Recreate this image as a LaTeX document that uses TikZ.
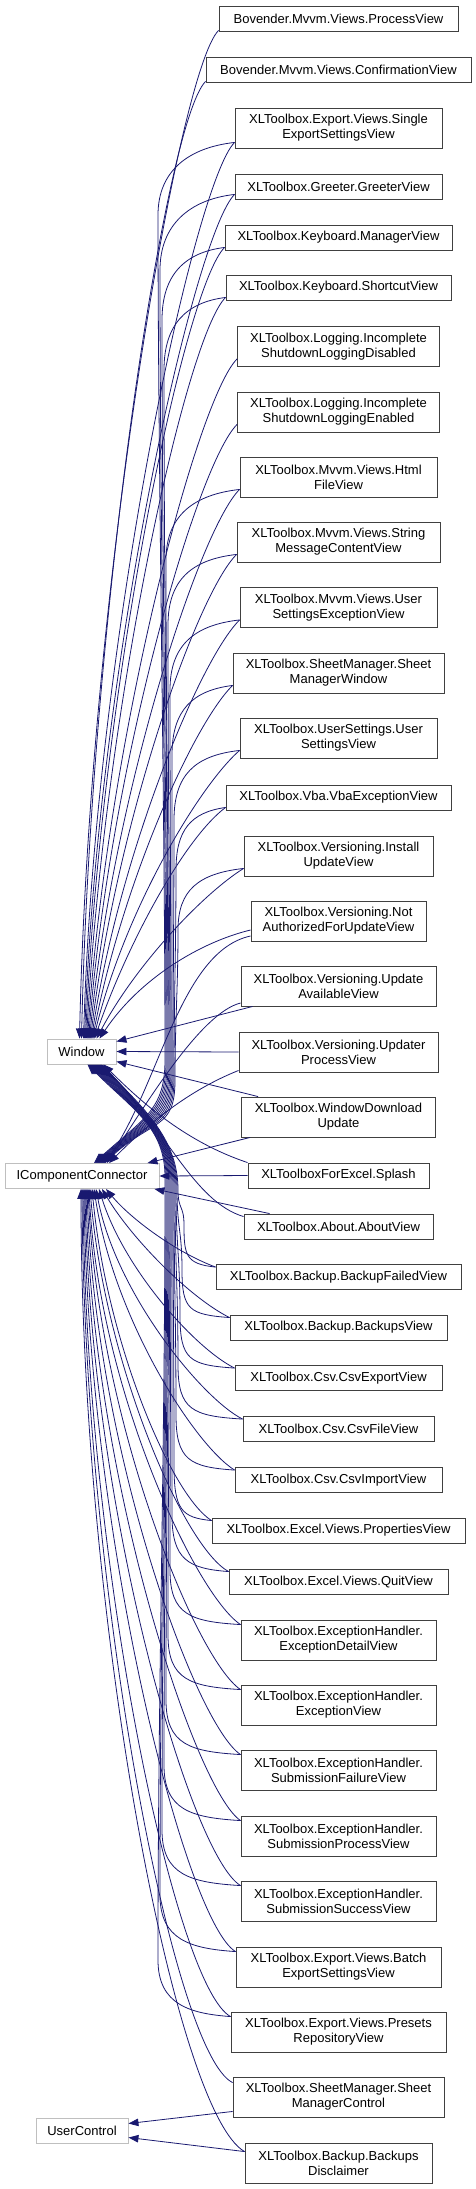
\documentclass[tikz,border=0pt]{standalone}
\usepackage{fontspec}
\setmainfont{Liberation Sans}
\usetikzlibrary{arrows.meta}
\definecolor{EdgeNavy}{RGB}{25, 25, 112}
\definecolor{BoxGray}{RGB}{64, 64, 64}
\definecolor{ExtGray}{RGB}{191, 191, 191}

\begin{document}
\begin{tikzpicture}[x=1pt, y=-1pt,
    cls/.style={draw=BoxGray, line width=0.9pt, fill=white, minimum height=25pt, inner sep=1pt, align=center, font=\fontsize{13}{15}\selectfont},
    clsTwo/.style={cls, minimum height=40pt},
    ext/.style={cls, draw=ExtGray},
    inh/.style={EdgeNavy, line width=0.8pt, -{Triangle[length=10pt, width=7.5pt]}}]
    \useasboundingbox (0,0) rectangle (476,2189);

    % Base classes
    \node[ext, minimum width=69pt] (window) at (81.5,1051.5) {Window};
    \node[ext, minimum width=154pt] (icc) at (82,1176) {IComponentConnector};
    \node[ext, minimum width=92pt] (userCtl) at (82,2130.5) {UserControl};

    % Derived classes
    \node[cls, minimum width=239pt] (procView) at (338.5,18.5) {Bovender.Mvvm.Views.ProcessView};
    \node[cls, minimum width=265pt] (confView) at (338.5,69.5) {Bovender.Mvvm.Views.ConfirmationView};
    \node[clsTwo, minimum width=207pt] (singleExp) at (338.5,128) {XLToolbox.Export.Views.Single\\ExportSettingsView};
    \node[cls, minimum width=207pt] (greeter) at (338.5,186.5) {XLToolbox.Greeter.GreeterView};
    \node[cls, minimum width=227pt] (mgrView) at (338.5,237.5) {XLToolbox.Keyboard.ManagerView};
    \node[cls, minimum width=225pt] (shortcut) at (338.5,287.5) {XLToolbox.Keyboard.ShortcutView};
    \node[clsTwo, minimum width=202pt] (logOff) at (338.5,346.5) {XLToolbox.Logging.Incomplete\\ShutdownLoggingDisabled};
    \node[clsTwo, minimum width=202pt] (logOn) at (338.5,412) {XLToolbox.Logging.Incomplete\\ShutdownLoggingEnabled};
    \node[clsTwo, minimum width=197pt] (htmlFile) at (338.5,477) {XLToolbox.Mvvm.Views.Html\\FileView};
    \node[clsTwo, minimum width=203pt] (strMsg) at (338.5,542) {XLToolbox.Mvvm.Views.String\\MessageContentView};
    \node[clsTwo, minimum width=197pt] (usrExc) at (338.5,607.5) {XLToolbox.Mvvm.Views.User\\SettingsExceptionView};
    \node[clsTwo, minimum width=211pt] (sheetWin) at (338.5,673) {XLToolbox.SheetManager.Sheet\\ManagerWindow};
    \node[clsTwo, minimum width=197pt] (usrSet) at (338.5,738) {XLToolbox.UserSettings.User\\SettingsView};
    \node[cls, minimum width=225pt] (vbaExc) at (338.5,797.5) {XLToolbox.Vba.VbaExceptionView};
    \node[clsTwo, minimum width=189pt] (instUpd) at (338.5,856) {XLToolbox.Versioning.Install\\UpdateView};
    \node[clsTwo, minimum width=175pt] (notAuth) at (338.5,921) {XLToolbox.Versioning.Not\\AuthorizedForUpdateView};
    \node[clsTwo, minimum width=195pt] (updAvail) at (338.5,986) {XLToolbox.Versioning.Update\\AvailableView};
    \node[clsTwo, minimum width=199pt] (updProc) at (338.5,1052) {XLToolbox.Versioning.Updater\\ProcessView};
    \node[clsTwo, minimum width=194pt] (winDl) at (338.5,1117) {XLToolbox.WindowDownload\\Update};
    \node[cls, minimum width=181pt] (splash) at (338.5,1175.5) {XLToolboxForExcel.Splash};
    \node[cls, minimum width=189pt] (about) at (338.5,1226.5) {XLToolbox.About.AboutView};
    \node[cls, minimum width=245pt] (bkFailed) at (338.5,1277) {XLToolbox.Backup.BackupFailedView};
    \node[cls, minimum width=217pt] (bkView) at (338.5,1327.5) {XLToolbox.Backup.BackupsView};
    \node[cls, minimum width=207pt] (csvExp) at (338.5,1378) {XLToolbox.Csv.CsvExportView};
    \node[cls, minimum width=191pt] (csvFile) at (338.5,1429) {XLToolbox.Csv.CsvFileView};
    \node[cls, minimum width=207pt] (csvImp) at (338.5,1480) {XLToolbox.Csv.CsvImportView};
    \node[cls, minimum width=253pt] (propView) at (338.5,1530.5) {XLToolbox.Excel.Views.PropertiesView};
    \node[cls, minimum width=219pt] (quitView) at (338.5,1581.5) {XLToolbox.Excel.Views.QuitView};
    \node[clsTwo, minimum width=195pt] (excDetail) at (338.5,1640) {XLToolbox.ExceptionHandler.\\ExceptionDetailView};
    \node[clsTwo, minimum width=195pt] (excView) at (338.5,1705) {XLToolbox.ExceptionHandler.\\ExceptionView};
    \node[clsTwo, minimum width=195pt] (subFail) at (338.5,1770) {XLToolbox.ExceptionHandler.\\SubmissionFailureView};
    \node[clsTwo, minimum width=195pt] (subProc) at (338.5,1836) {XLToolbox.ExceptionHandler.\\SubmissionProcessView};
    \node[clsTwo, minimum width=195pt] (subSucc) at (338.5,1901) {XLToolbox.ExceptionHandler.\\SubmissionSuccessView};
    \node[clsTwo, minimum width=205pt] (batchExp) at (338.5,1967) {XLToolbox.Export.Views.Batch\\ExportSettingsView};
    \node[clsTwo, minimum width=215pt] (presets) at (338.5,2032) {XLToolbox.Export.Views.Presets\\RepositoryView};
    \node[clsTwo, minimum width=211pt] (sheetCtl) at (338.5,2097) {XLToolbox.SheetManager.Sheet\\ManagerControl};
    \node[clsTwo, minimum width=187pt] (bkDisc) at (338.5,2163) {XLToolbox.Backup.Backups\\Disclaimer};

    % Upper classes -> Window
    \draw[inh] ([yshift=1pt]procView.south west) .. controls +(-40,40) and +(10,-450) .. ([xshift=-2pt]window.north);
    \draw[inh] ([yshift=1pt]confView.south west) .. controls +(-40,40) and +(10,-430) .. (window.north);
    \draw[inh] ([yshift=6pt]singleExp.south west) .. controls +(-40,40) and +(12,-400) .. ([xshift=2pt]window.north);
    \draw[inh] ([yshift=5pt]greeter.south west) .. controls +(-40,40) and +(14,-380) .. ([xshift=3pt]window.north);
    \draw[inh] ([yshift=3pt]mgrView.south west) .. controls +(-40,40) and +(16,-355) .. ([xshift=4pt]window.north);
    \draw[inh] ([yshift=3pt]shortcut.south west) .. controls +(-40,40) and +(18,-330) .. ([xshift=5pt]window.north);
    \draw[inh] ([yshift=8pt]logOff.south west) .. controls +(-40,40) and +(20,-300) .. ([xshift=6pt]window.north);
    \draw[inh] ([yshift=8pt]logOn.south west) .. controls +(-40,40) and +(22,-275) .. ([xshift=7pt]window.north);
    \draw[inh] ([yshift=8pt]htmlFile.south west) .. controls +(-40,40) and +(24,-245) .. ([xshift=8pt]window.north);
    \draw[inh] ([yshift=8pt]strMsg.south west) .. controls +(-40,40) and +(26,-215) .. ([xshift=9pt]window.north);
    \draw[inh] ([yshift=8pt]usrExc.south west) .. controls +(-40,40) and +(28,-185) .. ([xshift=10pt]window.north);
    \draw[inh] ([yshift=8pt]sheetWin.south west) .. controls +(-40,40) and +(30,-155) .. ([xshift=11pt]window.north);
    \draw[inh] ([yshift=8pt]usrSet.south west) .. controls +(-40,35) and +(32,-130) .. ([xshift=12pt]window.north);
    \draw[inh] ([yshift=3pt]vbaExc.south west) .. controls +(-40,30) and +(35,-100) .. ([xshift=13pt]window.north);
    \draw[inh] ([yshift=8pt]instUpd.south west) .. controls +(-40,25) and +(40,-75) .. ([xshift=15pt]window.north);
    \draw[inh] ([yshift=-9pt]notAuth.west) .. controls +(-50,12) and +(40,-60) .. ([xshift=18pt]window.north);
    \draw[inh] ([xshift=12pt]updAvail.south west) -- ([yshift=10pt]window.east);
    \draw[inh] (updProc.west) -- (window.east);
    \draw[inh] ([xshift=17pt]winDl.north west) -- ([yshift=-10pt]window.east);

    % Upper classes -> IComponentConnector (bundle down at x~170)
    \draw[inh] ([yshift=6pt]singleExp.south west) .. controls +(-45,5) and +(0,-45) .. (158,215) .. controls +(0,250) and +(0,-250) .. (165,1060) .. controls +(0,50) and +(50,-45) .. ([xshift=12pt]icc.north);
    \draw[inh] ([yshift=5pt]greeter.south west) .. controls +(-45,5) and +(0,-45) .. (160,270) .. controls +(0,250) and +(0,-250) .. (166,1062) .. controls +(0,50) and +(50,-45) .. ([xshift=13pt]icc.north);
    \draw[inh] ([yshift=3pt]mgrView.south west) .. controls +(-40,5) and +(0,-45) .. (162,320) .. controls +(0,250) and +(0,-250) .. (167,1064) .. controls +(0,50) and +(50,-45) .. ([xshift=14pt]icc.north);
    \draw[inh] ([yshift=3pt]shortcut.south west) .. controls +(-40,5) and +(0,-45) .. (164,370) .. controls +(0,250) and +(0,-250) .. (168,1066) .. controls +(0,50) and +(50,-45) .. ([xshift=15pt]icc.north);
    \draw[inh] ([yshift=8pt]htmlFile.south west) .. controls +(-45,5) and +(0,-45) .. (166,560) .. controls +(0,200) and +(0,-200) .. (169,1068) .. controls +(0,50) and +(50,-45) .. ([xshift=16pt]icc.north);
    \draw[inh] ([yshift=8pt]strMsg.south west) .. controls +(-45,5) and +(0,-45) .. (168,625) .. controls +(0,180) and +(0,-180) .. (170,1070) .. controls +(0,50) and +(50,-45) .. ([xshift=17pt]icc.north);
    \draw[inh] ([yshift=8pt]usrExc.south west) .. controls +(-45,5) and +(0,-45) .. (170,690) .. controls +(0,150) and +(0,-150) .. (171,1072) .. controls +(0,50) and +(50,-45) .. ([xshift=18pt]icc.north);
    \draw[inh] ([yshift=8pt]sheetWin.south west) .. controls +(-40,5) and +(0,-45) .. (172,755) .. controls +(0,120) and +(0,-120) .. (172,1074) .. controls +(0,50) and +(50,-45) .. ([xshift=19pt]icc.north);
    \draw[inh] ([yshift=8pt]usrSet.south west) .. controls +(-45,5) and +(0,-45) .. (174,820) .. controls +(0,100) and +(0,-100) .. (173,1076) .. controls +(0,50) and +(50,-45) .. ([xshift=20pt]icc.north);
    \draw[inh] ([yshift=3pt]vbaExc.south west) .. controls +(-35,5) and +(0,-40) .. (176,870) .. controls +(0,80) and +(0,-80) .. (174,1078) .. controls +(0,50) and +(50,-45) .. ([xshift=21pt]icc.north);
    \draw[inh] ([yshift=8pt]instUpd.south west) .. controls +(-45,5) and +(0,-40) .. (178,930) .. controls +(0,60) and +(0,-60) .. (175,1080) .. controls +(0,50) and +(50,-45) .. ([xshift=22pt]icc.north);
    \draw[inh] ([yshift=-15pt]notAuth.west) .. controls +(-70,15) and +(55,-80) .. ([xshift=23pt]icc.north);
    \draw[inh] ([yshift=-17pt]updAvail.west) .. controls +(-40,10) and +(40,-60) .. ([xshift=25pt]icc.north);
    \draw[inh] ([yshift=2pt]updProc.south west) .. controls +(-50,20) and +(40,-40) .. ([xshift=27pt]icc.north);
    \draw[inh] ([xshift=9pt]winDl.south west) -- ([xshift=-12pt]icc.north east);

    % Splash and About
    \draw[inh] (splash.west) -- (icc.east);
    \draw[inh] (splash.north west) .. controls +(-60,-20) and +(40,40) .. ([xshift=22pt]window.south);
    \draw[inh] ([xshift=26pt]about.north west) -- ([xshift=-5pt]icc.south east);
    \draw[inh] ([yshift=-3pt]about.north west) .. controls +(-50,-15) and +(65,65) .. ([xshift=20pt]window.south);

    % Lower classes -> Window (bundle up at x~170)
    \draw[inh] ([yshift=-3pt]bkFailed.north west) .. controls +(-30,-3) and +(0,30) .. (184,1225) .. controls +(0,-20) and +(0,20) .. (178,1190) .. controls +(0,-50) and +(45,45) .. ([xshift=19pt]window.south);
    \draw[inh] ([yshift=-3pt]bkView.north west) .. controls +(-40,-3) and +(0,40) .. (182,1270) .. controls +(0,-40) and +(0,40) .. (177,1189) .. controls +(0,-50) and +(45,45) .. ([xshift=18pt]window.south);
    \draw[inh] ([yshift=-3pt]csvExp.north west) .. controls +(-45,-3) and +(0,45) .. (180,1315) .. controls +(0,-60) and +(0,60) .. (176,1188) .. controls +(0,-50) and +(45,45) .. ([xshift=17pt]window.south);
    \draw[inh] ([yshift=-3pt]csvFile.north west) .. controls +(-50,-3) and +(0,45) .. (178,1365) .. controls +(0,-80) and +(0,80) .. (175,1187) .. controls +(0,-50) and +(45,45) .. ([xshift=16pt]window.south);
    \draw[inh] ([yshift=-3pt]csvImp.north west) .. controls +(-45,-3) and +(0,45) .. (176,1415) .. controls +(0,-100) and +(0,100) .. (174,1186) .. controls +(0,-50) and +(45,45) .. ([xshift=15pt]window.south);
    \draw[inh] ([yshift=-3pt]propView.north west) .. controls +(-30,-3) and +(0,45) .. (174,1465) .. controls +(0,-120) and +(0,120) .. (173,1185) .. controls +(0,-50) and +(45,45) .. ([xshift=14pt]window.south);
    \draw[inh] ([yshift=-3pt]quitView.north west) .. controls +(-40,-3) and +(0,45) .. (172,1515) .. controls +(0,-140) and +(0,140) .. (172,1184) .. controls +(0,-50) and +(45,45) .. ([xshift=13pt]window.south);
    \draw[inh] ([yshift=-5pt]excDetail.north west) .. controls +(-50,-3) and +(0,45) .. (170,1570) .. controls +(0,-160) and +(0,160) .. (171,1183) .. controls +(0,-50) and +(45,45) .. ([xshift=12pt]window.south);
    \draw[inh] ([yshift=-5pt]excView.north west) .. controls +(-50,-3) and +(0,45) .. (168,1635) .. controls +(0,-180) and +(0,180) .. (170,1182) .. controls +(0,-50) and +(45,45) .. ([xshift=11pt]window.south);
    \draw[inh] ([yshift=-5pt]subFail.north west) .. controls +(-50,-3) and +(0,45) .. (166,1700) .. controls +(0,-200) and +(0,200) .. (169,1181) .. controls +(0,-50) and +(45,45) .. ([xshift=10pt]window.south);
    \draw[inh] ([yshift=-5pt]subProc.north west) .. controls +(-50,-3) and +(0,45) .. (164,1765) .. controls +(0,-220) and +(0,220) .. (168,1180) .. controls +(0,-50) and +(45,45) .. ([xshift=9pt]window.south);
    \draw[inh] ([yshift=-5pt]subSucc.north west) .. controls +(-50,-3) and +(0,45) .. (162,1830) .. controls +(0,-240) and +(0,240) .. (167,1179) .. controls +(0,-50) and +(45,45) .. ([xshift=8pt]window.south);
    \draw[inh] ([yshift=-5pt]batchExp.north west) .. controls +(-45,-3) and +(0,45) .. (160,1895) .. controls +(0,-260) and +(0,260) .. (166,1178) .. controls +(0,-50) and +(45,45) .. ([xshift=7pt]window.south);
    \draw[inh] ([yshift=-5pt]presets.north west) .. controls +(-40,-3) and +(0,45) .. (158,1960) .. controls +(0,-280) and +(0,280) .. (165,1177) .. controls +(0,-50) and +(45,45) .. ([xshift=6pt]window.south);

    % Lower classes -> IComponentConnector
    \draw[inh] ([yshift=-3pt]bkFailed.north west) .. controls +(-40,-15) and +(25,30) .. ([xshift=24pt]icc.south);
    \draw[inh] ([yshift=-3pt]bkView.north west) .. controls +(-40,-20) and +(30,50) .. ([xshift=20pt]icc.south);
    \draw[inh] ([yshift=-3pt]csvExp.north west) .. controls +(-40,-20) and +(25,80) .. ([xshift=17pt]icc.south);
    \draw[inh] ([yshift=-3pt]csvFile.north west) .. controls +(-40,-20) and +(20,105) .. ([xshift=14pt]icc.south);
    \draw[inh] ([yshift=-3pt]csvImp.north west) .. controls +(-40,-25) and +(20,130) .. ([xshift=12pt]icc.south);
    \draw[inh] ([yshift=-3pt]propView.north west) .. controls +(-40,-25) and +(15,155) .. ([xshift=10pt]icc.south);
    \draw[inh] ([yshift=-3pt]quitView.north west) .. controls +(-45,-25) and +(15,175) .. ([xshift=8pt]icc.south);
    \draw[inh] ([yshift=-5pt]excDetail.north west) .. controls +(-45,-30) and +(10,200) .. ([xshift=7pt]icc.south);
    \draw[inh] ([yshift=-5pt]excView.north west) .. controls +(-45,-30) and +(10,230) .. ([xshift=6pt]icc.south);
    \draw[inh] ([yshift=-5pt]subFail.north west) .. controls +(-45,-30) and +(8,260) .. ([xshift=5pt]icc.south);
    \draw[inh] ([yshift=-5pt]subProc.north west) .. controls +(-45,-30) and +(6,290) .. ([xshift=4pt]icc.south);
    \draw[inh] ([yshift=-5pt]subSucc.north west) .. controls +(-50,-30) and +(5,320) .. ([xshift=3pt]icc.south);
    \draw[inh] ([yshift=-5pt]batchExp.north west) .. controls +(-50,-30) and +(4,350) .. ([xshift=2pt]icc.south);
    \draw[inh] ([yshift=-5pt]presets.north west) .. controls +(-55,-30) and +(3,380) .. ([xshift=1pt]icc.south);
    \draw[inh] ([yshift=-6pt]sheetCtl.north west) .. controls +(-60,-30) and +(2,400) .. (icc.south);
    \draw[inh] ([yshift=-9pt]bkDisc.north west) .. controls +(-70,-40) and +(0,430) .. ([xshift=-1pt]icc.south);

    % UserControl
    \draw[inh] ([yshift=6pt]sheetCtl.south west) -- ([yshift=7pt]userCtl.east);
    \draw[inh] ([yshift=-9pt]bkDisc.north west) -- ([yshift=-7pt]userCtl.east);
\end{tikzpicture}
\end{document}
